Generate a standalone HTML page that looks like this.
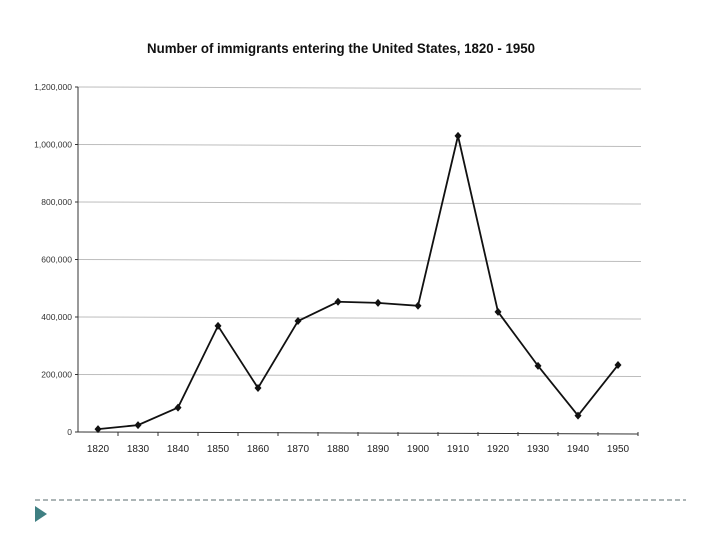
<!DOCTYPE html>
<html><head><meta charset="utf-8"><style>
body{margin:0;background:#fff;}
svg{display:block;font-family:"Liberation Sans",Arial,sans-serif;}
</style></head><body>
<svg width="720" height="540" viewBox="0 0 720 540">
<text x="341" y="53" text-anchor="middle" font-size="13.5" font-weight="bold" fill="#111" textLength="388" lengthAdjust="spacingAndGlyphs">Number of immigrants entering the United States, 1820 - 1950</text>
<g id="grid"></g>
<g id="yaxis"></g>
<g id="xaxis"></g>
<g id="series"></g>
<line x1="35" y1="500" x2="686" y2="500" stroke="#5a6b6e" stroke-width="1" stroke-dasharray="5,3"/>
<polygon points="35,506 47,514 35,522" fill="#3f7f82"/>
</svg>
<script>
const years = ["1820","1830","1840","1850","1860","1870","1880","1890","1900","1910","1920","1930","1940","1950"];
const immigrants = [10000,24000,85000,369000,153000,386000,453000,449000,439000,1030000,418000,230000,57000,233000];
const yTicks = [0,200000,400000,600000,800000,1000000,1200000];
const yTickLabels = ["0","200,000","400,000","600,000","800,000","1,000,000","1,200,000"];

const NS="http://www.w3.org/2000/svg";
const x0=78, step=40, yBase=432, yTop=87, yMax=1200000;
function xPos(i){return x0+step*(i+0.5);}
function yPos(v){return yBase-(v/yMax)*(yBase-yTop);}
function mk(tag,attrs,parent){const e=document.createElementNS(NS,tag);for(const k in attrs)e.setAttribute(k,attrs[k]);parent.appendChild(e);return e;}
const grid=document.getElementById('grid'),ya=document.getElementById('yaxis'),xa=document.getElementById('xaxis'),ser=document.getElementById('series');
yTicks.forEach((t,i)=>{
  const y=yPos(t);
  if(t>0){const g=mk('line',{x1:x0,y1:y,x2:641,y2:y+2,stroke:'#bdbdbd','stroke-width':1},grid);
  
  }
  const tk=mk('line',{x1:x0-3,y1:y,x2:x0,y2:y,stroke:'#333'},ya);
  
  
  const tx=mk('text',{x:x0-6,y:y+3,'text-anchor':'end','font-size':'8.5',fill:'#333'},ya);
  tx.textContent=yTickLabels[i];
  
  
});
const axl=mk('line',{x1:x0,y1:yTop,x2:x0,y2:yBase,stroke:'#333','stroke-width':1},ya);


const bx=mk('line',{x1:x0,y1:yBase,x2:x0+step*years.length,y2:yBase+2,stroke:'#333','stroke-width':1},xa);


years.forEach((yr,i)=>{
  const xt=x0+step*(i+1);
  const tk=mk('line',{x1:xt,y1:yBase,x2:xt,y2:yBase+4,stroke:'#333'},xa);
  
  
  const tx=mk('text',{x:xPos(i),y:452,'text-anchor':'middle','font-size':'10',fill:'#222'},xa);
  tx.textContent=yr;
  
  
});
const pts=immigrants.map((v,i)=>xPos(i)+','+yPos(v)).join(' ');
const pl=mk('polyline',{points:pts,fill:'none',stroke:'#111','stroke-width':1.8},ser);


immigrants.forEach((v,i)=>{
  const x=xPos(i),y=yPos(v);
  const m=mk('polygon',{points:`${x},${y-4} ${x+3.5},${y} ${x},${y+4} ${x-3.5},${y}`,fill:'#111'},ser);
  
  
});
</script>
</body></html>
